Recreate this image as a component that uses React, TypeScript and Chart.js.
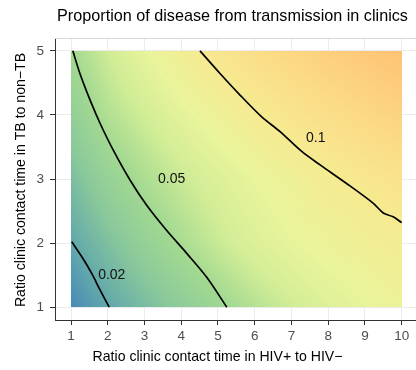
import React, { useEffect, useRef } from "react";
import { Chart, registerables } from "chart.js";
Chart.register(...registerables);

const chartTitle = "Proportion of disease from transmission in clinics";
const xTitle = "Ratio clinic contact time in HIV+ to HIV\u2212";
const yTitle = "Ratio clinic contact time in TB to non\u2212TB";
const xTicks = [1, 2, 3, 4, 5, 6, 7, 8, 9, 10];
const yTicks = [1, 2, 3, 4, 5];

// Field grid (values at integer x = 1..10 for each y row)
const gridX = [1, 2, 3, 4, 5, 6, 7, 8, 9, 10];
const gridY = [1, 2, 3, 4, 5];
const zY1 = [0.010, 0.020, 0.029, 0.038, 0.047, 0.056, 0.064, 0.072, 0.079, 0.086];
const zY2 = [0.020, 0.031, 0.042, 0.052, 0.062, 0.071, 0.079, 0.085, 0.091, 0.096];
const zY3 = [0.030, 0.043, 0.053, 0.062, 0.071, 0.080, 0.088, 0.097, 0.104, 0.110];
const zY4 = [0.040, 0.055, 0.065, 0.076, 0.087, 0.098, 0.107, 0.115, 0.122, 0.129];
const zY5 = [0.050, 0.064, 0.078, 0.093, 0.106, 0.116, 0.125, 0.133, 0.140, 0.147];

// Contour lines
const contour002X = [1.02, 1.29, 1.56, 1.79, 2.04];
const contour002Y = [2.02, 1.79, 1.53, 1.27, 1.0];
const contour005X = [1.05, 1.24, 1.52, 1.79, 2.15, 2.61, 3.06, 3.6, 4.15, 4.69, 5.24];
const contour005Y = [5.0, 4.65, 4.23, 3.87, 3.45, 2.98, 2.59, 2.2, 1.84, 1.47, 1.0];
const contour01X = [4.51, 5.05, 5.6, 6.19, 6.69, 7.28, 7.78, 8.5, 9.23, 9.5, 9.77, 10.0];
const contour01Y = [5.0, 4.65, 4.31, 3.97, 3.74, 3.43, 3.22, 2.93, 2.62, 2.47, 2.41, 2.32];

const contourLabels = ["0.02", "0.05", "0.1"];
const contourLabelX = [2.11, 3.74, 7.66];
const contourLabelY = [1.5, 3.0, 3.64];

// Colour scale (value -> colour)
const paletteValues = [0.010, 0.020, 0.035, 0.050, 0.065, 0.080, 0.100, 0.120, 0.150];
const paletteColors = [
  [72, 138, 182],
  [97, 167, 172],
  [137, 200, 155],
  [162, 217, 145],
  [210, 237, 150],
  [233, 244, 155],
  [246, 234, 145],
  [252, 218, 134],
  [253, 192, 114],
];

const FONT = "'Liberation Sans', Arial, sans-serif";

function findIdx(arr: number[], v: number) {
  let i = 0;
  while (i < arr.length - 2 && v > arr[i + 1]) i++;
  return i;
}

function fieldAt(vx: number, vy: number) {
  const Z = [zY1, zY2, zY3, zY4, zY5];
  const cx = Math.min(Math.max(vx, gridX[0]), gridX[gridX.length - 1]);
  const cy = Math.min(Math.max(vy, gridY[0]), gridY[gridY.length - 1]);
  const i = findIdx(gridX, cx);
  const j = findIdx(gridY, cy);
  const tx = (cx - gridX[i]) / (gridX[i + 1] - gridX[i]);
  const ty = (cy - gridY[j]) / (gridY[j + 1] - gridY[j]);
  const a = Z[j][i] * (1 - tx) + Z[j][i + 1] * tx;
  const b = Z[j + 1][i] * (1 - tx) + Z[j + 1][i + 1] * tx;
  return a * (1 - ty) + b * ty;
}

function colorFor(v: number) {
  if (v <= paletteValues[0]) return paletteColors[0];
  const n = paletteValues.length;
  if (v >= paletteValues[n - 1]) return paletteColors[n - 1];
  const k = findIdx(paletteValues, v);
  const t = (v - paletteValues[k]) / (paletteValues[k + 1] - paletteValues[k]);
  const c0 = paletteColors[k], c1 = paletteColors[k + 1];
  return [0, 1, 2].map((q) => c0[q] + (c1[q] - c0[q]) * t);
}

const rasterPlugin = {
  id: "raster",
  beforeDatasetsDraw(chart: any) {
    const { ctx, chartArea, scales } = chart;
    const xs = scales.x, ys = scales.y;
    ctx.save();
    ctx.strokeStyle = "#d9d9d9";
    ctx.lineWidth = 1;
    ctx.beginPath();
    ctx.moveTo(chartArea.left, chartArea.top + 0.5);
    ctx.lineTo(chartArea.right, chartArea.top + 0.5);
    ctx.stroke();
    ctx.restore();

    const x0 = Math.round(xs.getPixelForValue(gridX[0]));
    const x1 = Math.round(xs.getPixelForValue(gridX[gridX.length - 1]));
    const y0 = Math.round(ys.getPixelForValue(gridY[gridY.length - 1]));
    const y1 = Math.round(ys.getPixelForValue(gridY[0]));
    const w = x1 - x0, h = y1 - y0;
    if (w <= 0 || h <= 0) return;
    const off = document.createElement("canvas");
    off.width = w;
    off.height = h;
    const octx = off.getContext("2d")!;
    const img = octx.createImageData(w, h);
    for (let j = 0; j < h; j++) {
      const vy = ys.getValueForPixel(y0 + j + 0.5);
      for (let i = 0; i < w; i++) {
        const vx = xs.getValueForPixel(x0 + i + 0.5);
        const c = colorFor(fieldAt(vx, vy));
        const p = (j * w + i) * 4;
        img.data[p] = c[0];
        img.data[p + 1] = c[1];
        img.data[p + 2] = c[2];
        img.data[p + 3] = 255;
      }
    }
    octx.putImageData(img, 0, 0);
    ctx.drawImage(off, x0, y0);
  },
};

const textPlugin = {
  id: "texts",
  afterDraw(chart: any) {
    const { ctx, scales } = chart;
    ctx.save();
    ctx.fillStyle = "#000";
    ctx.textAlign = "center";
    ctx.textBaseline = "middle";
    ctx.font = `16.2px ${FONT}`;
    ctx.fillText(chartTitle, 232.5, 17);
    ctx.font = `14.1px ${FONT}`;
    ctx.fillText(xTitle, 217.5, 357);
    ctx.save();
    ctx.translate(21, 180);
    ctx.rotate(-Math.PI / 2);
    ctx.fillText(yTitle, 0, 0);
    ctx.restore();
    ctx.fillStyle = "#111";
    ctx.font = `14px ${FONT}`;
    contourLabels.forEach((t, k) => {
      ctx.fillText(t, scales.x.getPixelForValue(contourLabelX[k]), scales.y.getPixelForValue(contourLabelY[k]));
    });
    ctx.restore();
  },
};

function toPts(xs: number[], ys: number[]) {
  return xs.map((x, i) => ({ x, y: ys[i] }));
}

export default function App() {
  const ref = useRef<HTMLCanvasElement>(null);
  useEffect(() => {
    document.body.style.margin = "0";
    const lineDs = (xs: number[], ys: number[]) => ({
      data: toPts(xs, ys),
      showLine: true,
      borderColor: "#000",
      borderWidth: 1.7,
      pointRadius: 0,
      tension: 0.3,
      fill: false,
    });
    const tickFont = { family: FONT, size: 13.5 };
    const chart = new Chart(ref.current!, {
      type: "scatter",
      data: {
        datasets: [
          lineDs(contour002X, contour002Y),
          lineDs(contour005X, contour005Y),
          lineDs(contour01X, contour01Y),
        ] as any,
      },
      options: {
        animation: false,
        responsive: false,
        layout: { padding: { top: 38, left: 0, right: 0, bottom: 0 } },
        plugins: { legend: { display: false }, tooltip: { enabled: false }, title: { display: false } },
        scales: {
          x: {
            type: "linear",
            min: 0.5645,
            max: 10.39,
            grid: { color: "#ebebeb", lineWidth: 1, tickColor: "#333", tickLength: 5 },
            border: { display: true, color: "#333", width: 1 },
            ticks: { color: "#4d4d4d", font: tickFont, padding: 3, maxRotation: 0, autoSkip: false },
            afterBuildTicks: (s: any) => { s.ticks = xTicks.map((v) => ({ value: v })); },
            afterFit: (s: any) => { s.height = 50; },
          },
          y: {
            type: "linear",
            min: 0.8,
            max: 5.2,
            grid: { color: "#ebebeb", lineWidth: 1, tickColor: "#333", tickLength: 5 },
            border: { display: true, color: "#333", width: 1 },
            ticks: { color: "#4d4d4d", font: tickFont, padding: 6, autoSkip: false },
            afterBuildTicks: (s: any) => { s.ticks = yTicks.map((v) => ({ value: v })); },
            afterFit: (s: any) => { s.width = 55; },
          },
        },
      } as any,
      plugins: [rasterPlugin, textPlugin],
    });
    return () => chart.destroy();
  }, []);
  return <canvas ref={ref} width={416} height={370} style={{ display: "block" }} />;
}
